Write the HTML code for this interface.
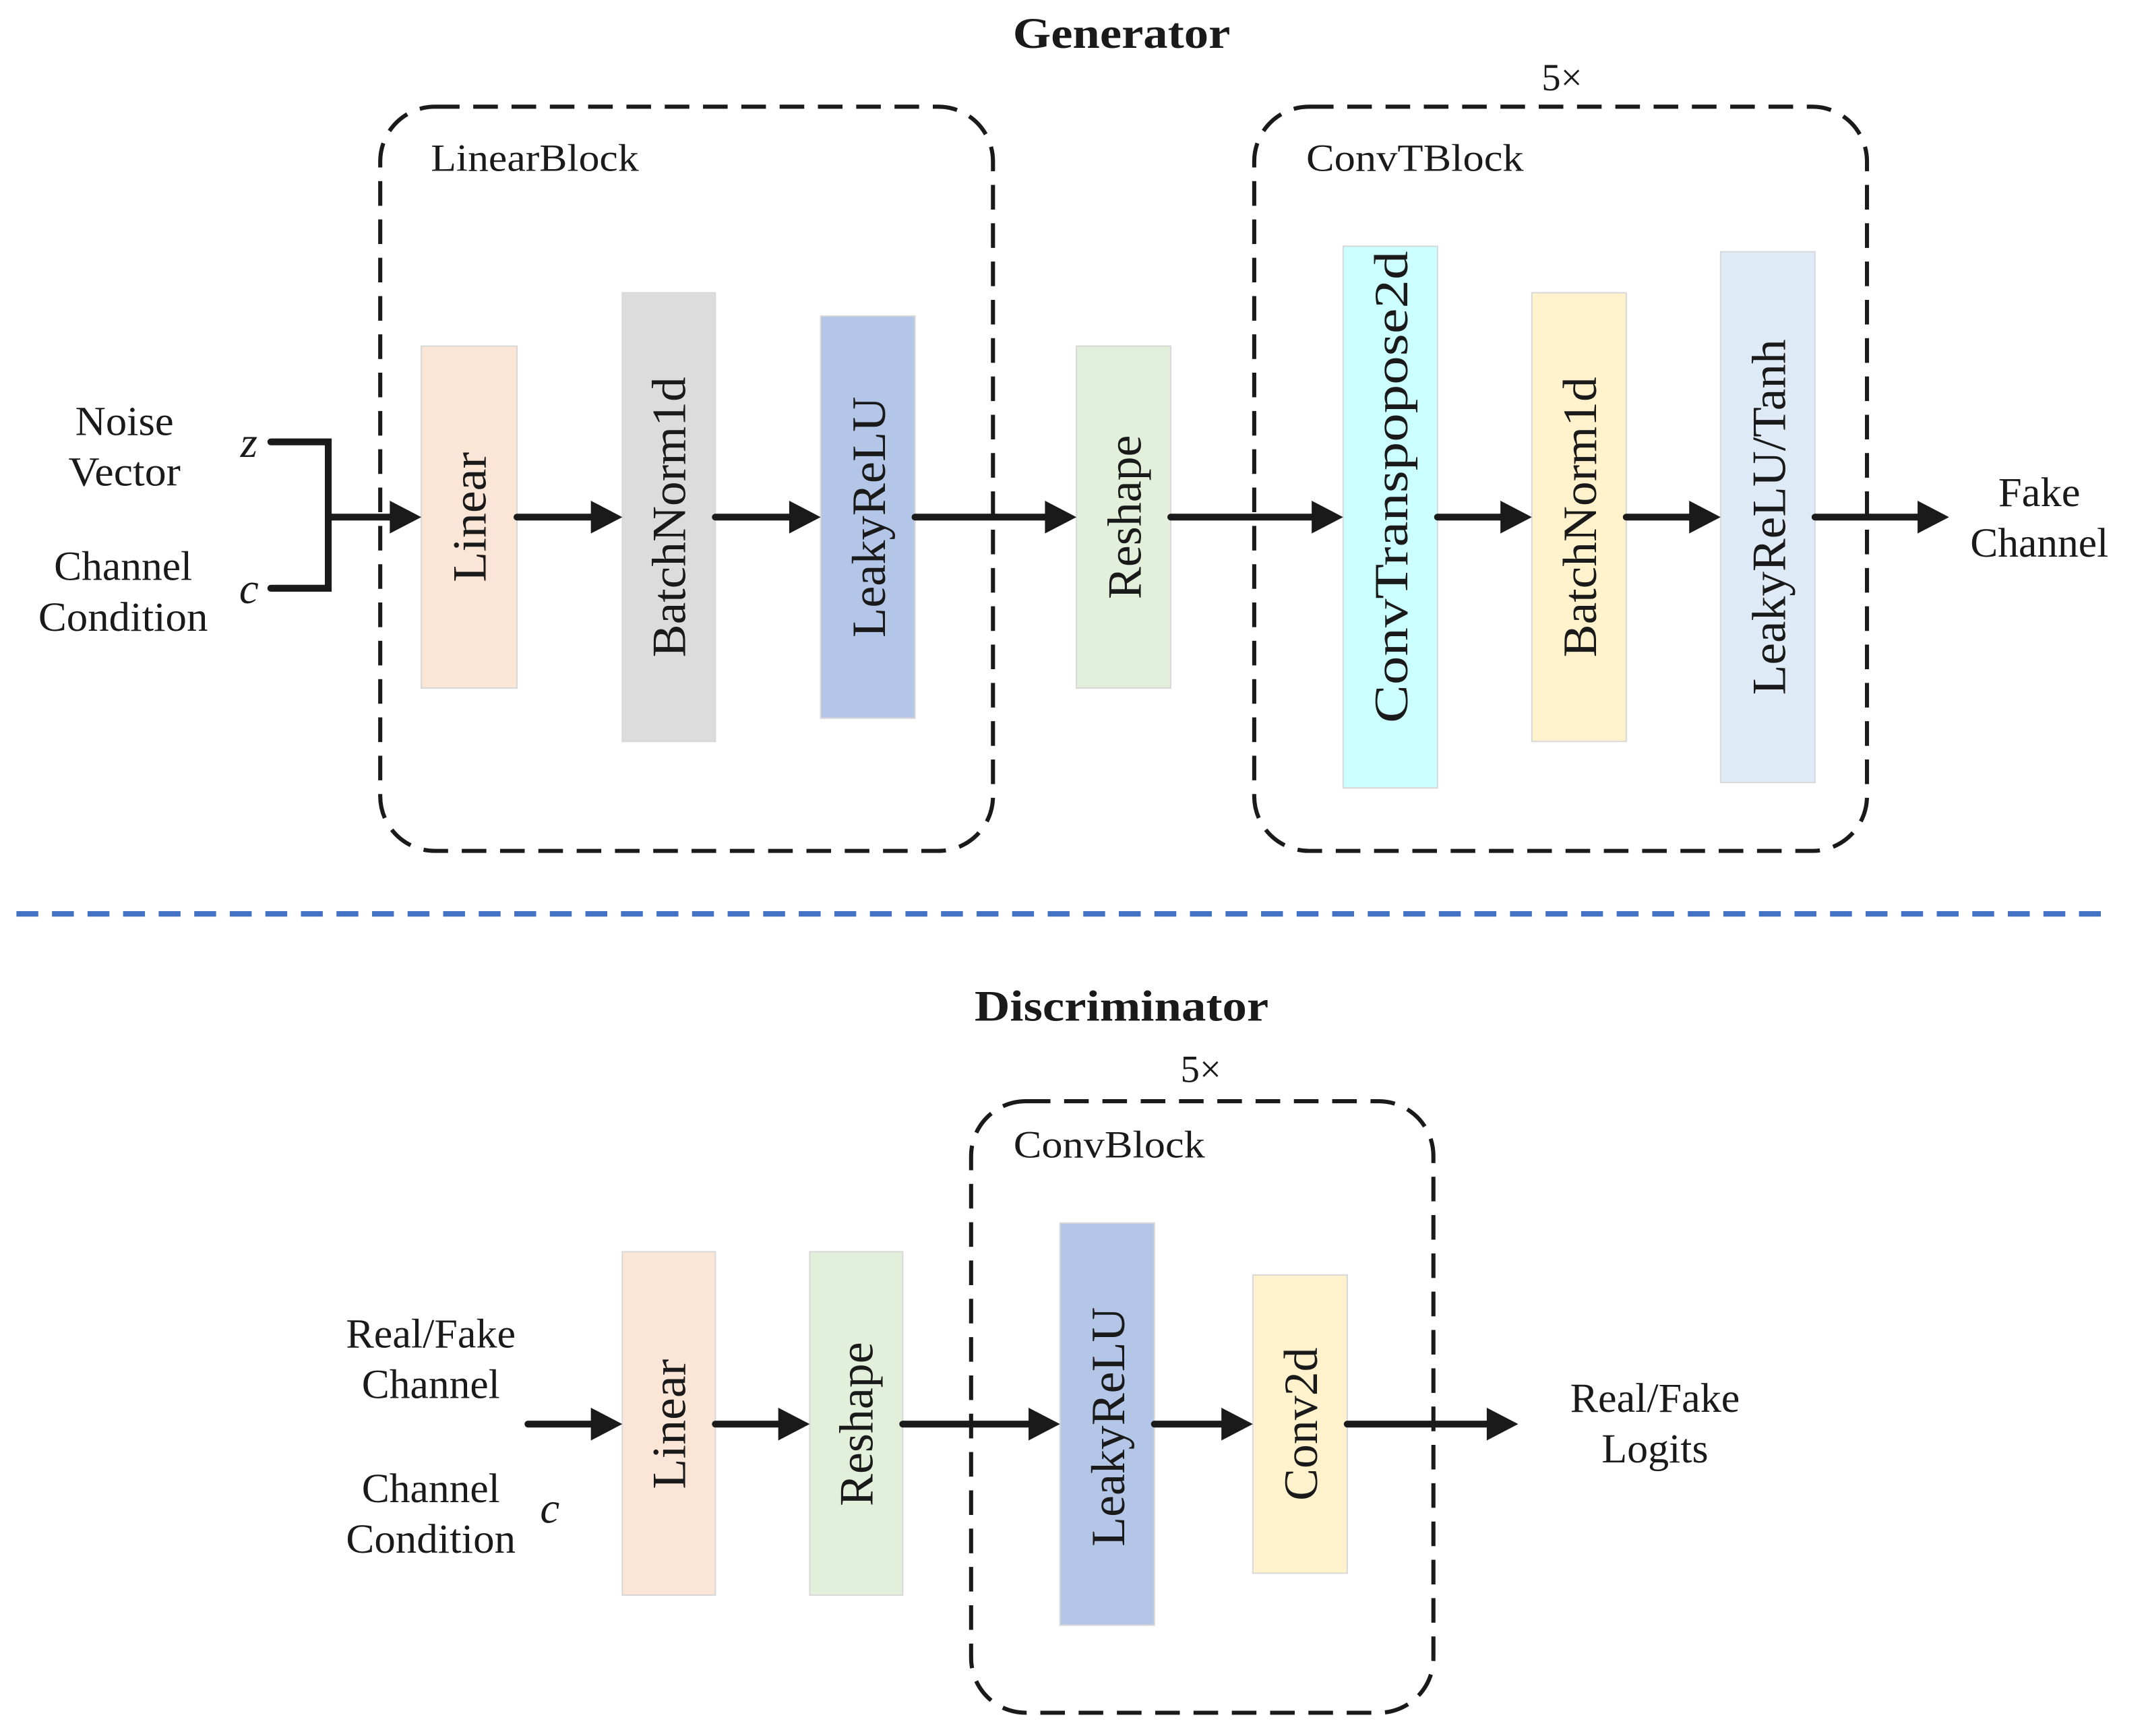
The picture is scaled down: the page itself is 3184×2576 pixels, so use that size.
<!DOCTYPE html>
<html><head><meta charset="utf-8"><style>
html,body{margin:0;padding:0;background:#fff;}
svg{display:block;}
text{font-family:"Liberation Serif",serif;fill:#1a1a1a;}
</style></head><body>
<svg width="3184" height="2576" viewBox="0 0 1569 1269" preserveAspectRatio="none" xmlns="http://www.w3.org/2000/svg">
<g font-size="32" text-anchor="middle" font-weight="bold">
<text x="820" y="35" textLength="159" lengthAdjust="spacingAndGlyphs">Generator</text>
<text x="820" y="746" textLength="215" lengthAdjust="spacingAndGlyphs">Discriminator</text></g>

<g fill="none" stroke="#1a1a1a" stroke-width="3" stroke-dasharray="18 10">
<rect x="278" y="78" width="448" height="544" rx="40"/>
<rect x="917" y="78" width="448" height="544" rx="40"/>
<rect x="710" y="805" width="338" height="447" rx="40"/>
</g>
<g font-size="28">
<text x="315" y="125" textLength="152" lengthAdjust="spacingAndGlyphs">LinearBlock</text>
<text x="955" y="125" textLength="159" lengthAdjust="spacingAndGlyphs">ConvTBlock</text>
<text x="741" y="846" textLength="140" lengthAdjust="spacingAndGlyphs">ConvBlock</text>
<text x="1142" y="66" text-anchor="middle">5×</text>
<text x="878" y="791" text-anchor="middle">5×</text>
</g>

<g stroke="#d8d8d8" stroke-width="1">
<rect x="308" y="253" width="70" height="250" fill="#fae5d6"/>
<rect x="455" y="214" width="68" height="328" fill="#dcdcdc"/>
<rect x="600" y="231" width="69" height="294" fill="#b4c6e7"/>
<rect x="787" y="253" width="69" height="250" fill="#e2efda"/>
<rect x="982" y="180" width="69" height="396" fill="#ccffff"/>
<rect x="1120" y="214" width="69" height="328" fill="#fff2cc"/>
<rect x="1258" y="184" width="69" height="388" fill="#deebf7"/>
<rect x="455" y="915" width="68" height="251" fill="#fae5d6"/>
<rect x="592" y="915" width="68" height="251" fill="#e2efda"/>
<rect x="775" y="894" width="69" height="294" fill="#b4c6e7"/>
<rect x="916" y="932" width="69" height="218" fill="#fff2cc"/>
</g>
<g font-size="35" text-anchor="middle">
<text transform="translate(355,378) rotate(-90)" textLength="95" lengthAdjust="spacingAndGlyphs">Linear</text>
<text transform="translate(501,378) rotate(-90)" textLength="205" lengthAdjust="spacingAndGlyphs">BatchNorm1d</text>
<text transform="translate(647,378) rotate(-90)" textLength="176" lengthAdjust="spacingAndGlyphs">LeakyReLU</text>
<text transform="translate(834,378) rotate(-90)" textLength="120" lengthAdjust="spacingAndGlyphs">Reshape</text>
<text transform="translate(1029,356) rotate(-90)" textLength="345" lengthAdjust="spacingAndGlyphs">ConvTranspopose2d</text>
<text transform="translate(1167,378) rotate(-90)" textLength="205" lengthAdjust="spacingAndGlyphs">BatchNorm1d</text>
<text transform="translate(1305,378) rotate(-90)" textLength="260" lengthAdjust="spacingAndGlyphs">LeakyReLU/Tanh</text>
<text transform="translate(501,1041) rotate(-90)" textLength="95" lengthAdjust="spacingAndGlyphs">Linear</text>
<text transform="translate(638,1041) rotate(-90)" textLength="120" lengthAdjust="spacingAndGlyphs">Reshape</text>
<text transform="translate(822,1043) rotate(-90)" textLength="175" lengthAdjust="spacingAndGlyphs">LeakyReLU</text>
<text transform="translate(963,1041) rotate(-90)" textLength="112" lengthAdjust="spacingAndGlyphs">Conv2d</text>
</g>

<path d="M198 323 H240 V430 H198" fill="none" stroke="#1a1a1a" stroke-width="5" stroke-linecap="round"/>

<g stroke="#1a1a1a" stroke-width="5" stroke-linecap="round">
<line x1="240" y1="378" x2="288" y2="378"/>
<line x1="378" y1="378" x2="435" y2="378"/>
<line x1="523" y1="378" x2="580" y2="378"/>
<line x1="669" y1="378" x2="767" y2="378"/>
<line x1="856" y1="378" x2="962" y2="378"/>
<line x1="1051" y1="378" x2="1100" y2="378"/>
<line x1="1189" y1="378" x2="1238" y2="378"/>
<line x1="1327" y1="378" x2="1405" y2="378"/>
<line x1="386" y1="1041" x2="435" y2="1041"/>
<line x1="523" y1="1041" x2="572" y2="1041"/>
<line x1="660" y1="1041" x2="755" y2="1041"/>
<line x1="844" y1="1041" x2="896" y2="1041"/>
<line x1="985" y1="1041" x2="1090" y2="1041"/>
</g>
<g fill="#1a1a1a">
<path d="M285 366 L308 378 L285 390Z"/>
<path d="M432 366 L455 378 L432 390Z"/>
<path d="M577 366 L600 378 L577 390Z"/>
<path d="M764 366 L787 378 L764 390Z"/>
<path d="M959 366 L982 378 L959 390Z"/>
<path d="M1097 366 L1120 378 L1097 390Z"/>
<path d="M1235 366 L1258 378 L1235 390Z"/>
<path d="M1402 366 L1425 378 L1402 390Z"/>
<path d="M432 1029 L455 1041 L432 1053Z"/>
<path d="M569 1029 L592 1041 L569 1053Z"/>
<path d="M752 1029 L775 1041 L752 1053Z"/>
<path d="M893 1029 L916 1041 L893 1053Z"/>
<path d="M1087 1029 L1110 1041 L1087 1053Z"/>
</g>

<g font-size="30" text-anchor="middle">
<text x="91" y="318" textLength="72" lengthAdjust="spacingAndGlyphs">Noise</text>
<text x="91" y="355" textLength="82" lengthAdjust="spacingAndGlyphs">Vector</text>
<text x="90" y="424" textLength="101" lengthAdjust="spacingAndGlyphs">Channel</text>
<text x="90" y="461" textLength="124" lengthAdjust="spacingAndGlyphs">Condition</text>
<text x="1491" y="370" textLength="60" lengthAdjust="spacingAndGlyphs">Fake</text>
<text x="1491" y="407" textLength="101" lengthAdjust="spacingAndGlyphs">Channel</text>
<text x="315" y="985" textLength="124" lengthAdjust="spacingAndGlyphs">Real/Fake</text>
<text x="315" y="1022" textLength="101" lengthAdjust="spacingAndGlyphs">Channel</text>
<text x="315" y="1098" textLength="101" lengthAdjust="spacingAndGlyphs">Channel</text>
<text x="315" y="1135" textLength="124" lengthAdjust="spacingAndGlyphs">Condition</text>
<text x="1210" y="1032" textLength="124" lengthAdjust="spacingAndGlyphs">Real/Fake</text>
<text x="1210" y="1069" textLength="78" lengthAdjust="spacingAndGlyphs">Logits</text>
</g>
<g font-size="32" font-style="italic" text-anchor="middle">
<text x="182" y="334">z</text>
<text x="182" y="441">c</text>
<text x="402" y="1113">c</text>
</g>

<line x1="12" y1="668" x2="1545" y2="668" stroke="#4472c4" stroke-width="4" stroke-dasharray="16 10"/>
</svg>
</body></html>
